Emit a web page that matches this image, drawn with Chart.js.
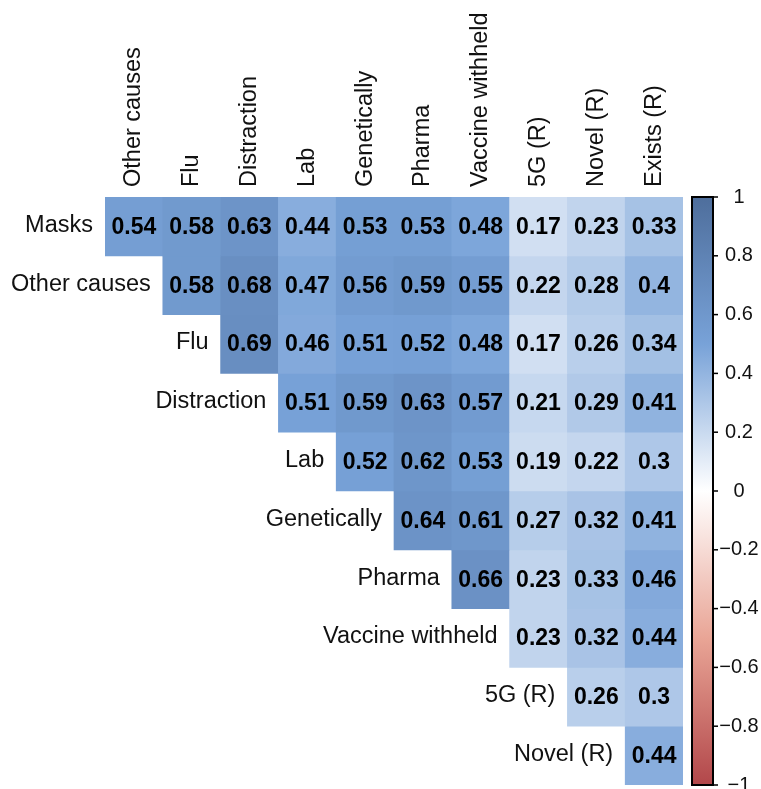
<!DOCTYPE html>
<html>
<head>
<meta charset="utf-8">
<title>Correlation matrix</title>
<script src="https://cdn.jsdelivr.net/npm/chart.js@4.4.1/dist/chart.umd.min.js"></script>
<style>
    html, body { margin: 0; padding: 0; background: #ffffff; }
    #chart-wrap { width: 761px; height: 789px; position: relative; }
</style>
</head>
<body>
<div id="chart-wrap"><canvas id="corr-chart"></canvas></div>
<script>
let rowLabels = ['Masks', 'Other causes', 'Flu', 'Distraction', 'Lab', 'Genetically', 'Pharma', 'Vaccine withheld', '5G (R)', 'Novel (R)'];
let colLabels = ['Other causes', 'Flu', 'Distraction', 'Lab', 'Genetically', 'Pharma', 'Vaccine withheld', '5G (R)', 'Novel (R)', 'Exists (R)'];

// one array per row, starting at the diagonal
let masks = [0.54, 0.58, 0.63, 0.44, 0.53, 0.53, 0.48, 0.17, 0.23, 0.33];
let otherCauses = [0.58, 0.68, 0.47, 0.56, 0.59, 0.55, 0.22, 0.28, 0.4];
let flu = [0.69, 0.46, 0.51, 0.52, 0.48, 0.17, 0.26, 0.34];
let distraction = [0.51, 0.59, 0.63, 0.57, 0.21, 0.29, 0.41];
let lab = [0.52, 0.62, 0.53, 0.19, 0.22, 0.3];
let genetically = [0.64, 0.61, 0.27, 0.32, 0.41];
let pharma = [0.66, 0.23, 0.33, 0.46];
let vaccineWithheld = [0.23, 0.32, 0.44];
let fiveG = [0.26, 0.3];
let novel = [0.44];
let corrRows = [masks, otherCauses, flu, distraction, lab, genetically, pharma, vaccineWithheld, fiveG, novel];

let colorbarTicks = [1, 0.8, 0.6, 0.4, 0.2, 0, -0.2, -0.4, -0.6, -0.8, -1];

// palette from -1 to 1
let paletteStops = ['#B2474A', '#E9A596', '#FFFFFF', '#78A2D8', '#4E6E9C'];

function hexToRgb(hex) {
    return [parseInt(hex.substr(1, 2), 16), parseInt(hex.substr(3, 2), 16), parseInt(hex.substr(5, 2), 16)];
}

function corrColor(v) {
    let pos = (v + 1) / 2 * (paletteStops.length - 1);
    let i = Math.min(Math.floor(pos), paletteStops.length - 2);
    let t = pos - i;
    let a = hexToRgb(paletteStops[i]);
    let b = hexToRgb(paletteStops[i + 1]);
    let c = a.map((x, k) => Math.round(x + (b[k] - x) * t));
    return `rgb(${c[0]}, ${c[1]}, ${c[2]})`;
}

function formatTick(v) {
    let s = String(Math.round(v * 10) / 10);
    return s.replace('-', '\u2212');
}

let datasets = rowLabels.map(function(name, r) {
    return {
        label: name,
        data: colLabels.map((c, j) => j >= r ? [r, r + 1] : null),
        backgroundColor: colLabels.map((c, j) => j >= r ? corrColor(corrRows[r][j - r]) : 'rgba(0,0,0,0)')
    };
});

let labelFont = '"Liberation Sans", Arial, Helvetica, sans-serif';

let corrText = {
    id: 'corrText',
    afterDatasetsDraw: function(chart) {
        let ctx = chart.ctx;
        let x = chart.scales.x;
        let y = chart.scales.y;
        let cb = chart.scales.cb;
        let area = chart.chartArea;
        let colW = (area.right - area.left) / colLabels.length;
        ctx.save();

        // values inside cells
        ctx.fillStyle = '#000000';
        ctx.font = 'bold 23px ' + labelFont;
        ctx.textAlign = 'center';
        ctx.textBaseline = 'middle';
        corrRows.forEach(function(row, r) {
            row.forEach(function(v, k) {
                let j = r + k;
                ctx.fillText(String(v), x.getPixelForValue(j), y.getPixelForValue(r + 0.5) + 1);
            });
        });

        // row labels, left of the diagonal
        ctx.fillStyle = '#111111';
        ctx.font = '23.5px ' + labelFont;
        ctx.textAlign = 'right';
        rowLabels.forEach(function(name, r) {
            ctx.fillText(name, x.getPixelForValue(r) - colW / 2 - 12, y.getPixelForValue(r + 0.5) - 1);
        });

        // column labels, rotated above the grid
        ctx.textAlign = 'left';
        colLabels.forEach(function(name, j) {
            ctx.save();
            ctx.translate(x.getPixelForValue(j), area.top - 10);
            ctx.rotate(-Math.PI / 2);
            ctx.fillText(name, 0, 0);
            ctx.restore();
        });

        // colour bar
        let barLeft = area.right + 9;
        let barW = 21;
        let top = cb.getPixelForValue(1);
        let bottom = cb.getPixelForValue(-1);
        let grad = ctx.createLinearGradient(0, bottom, 0, top);
        paletteStops.forEach((c, i) => grad.addColorStop(i / (paletteStops.length - 1), c));
        ctx.fillStyle = grad;
        ctx.fillRect(barLeft, top, barW, bottom - top);
        ctx.strokeStyle = '#000000';
        ctx.lineWidth = 2;
        ctx.strokeRect(barLeft, top, barW, bottom - top);

        ctx.fillStyle = '#111111';
        ctx.font = '20px ' + labelFont;
        ctx.textAlign = 'center';
        ctx.lineWidth = 1.5;
        colorbarTicks.forEach(function(t) {
            let ty = cb.getPixelForValue(t);
            ctx.beginPath();
            ctx.moveTo(barLeft + barW, ty);
            ctx.lineTo(barLeft + barW + 5, ty);
            ctx.stroke();
            ctx.fillText(formatTick(t), barLeft + barW + 26, ty);
        });
        ctx.restore();
    }
};

let ctx = document.getElementById('corr-chart').getContext('2d');
window.corrChart = new Chart(ctx, {
    type: 'bar',
    data: {
        labels: colLabels,
        datasets: datasets
    },
    options: {
        responsive: true,
        maintainAspectRatio: false,
        animation: false,
        layout: {
            padding: { left: 105, right: 78, top: 197, bottom: 4 }
        },
        datasets: {
            bar: {
                grouped: false,
                barPercentage: 1,
                categoryPercentage: 1,
                borderWidth: 0
            }
        },
        plugins: {
            legend: { display: false },
            tooltip: { enabled: false }
        },
        scales: {
            x: { type: 'category', display: false },
            y: { type: 'linear', min: 0, max: 10, reverse: true, display: false },
            cb: { type: 'linear', position: 'right', min: -1, max: 1, display: false }
        }
    },
    plugins: [corrText]
});
</script>
</body>
</html>
